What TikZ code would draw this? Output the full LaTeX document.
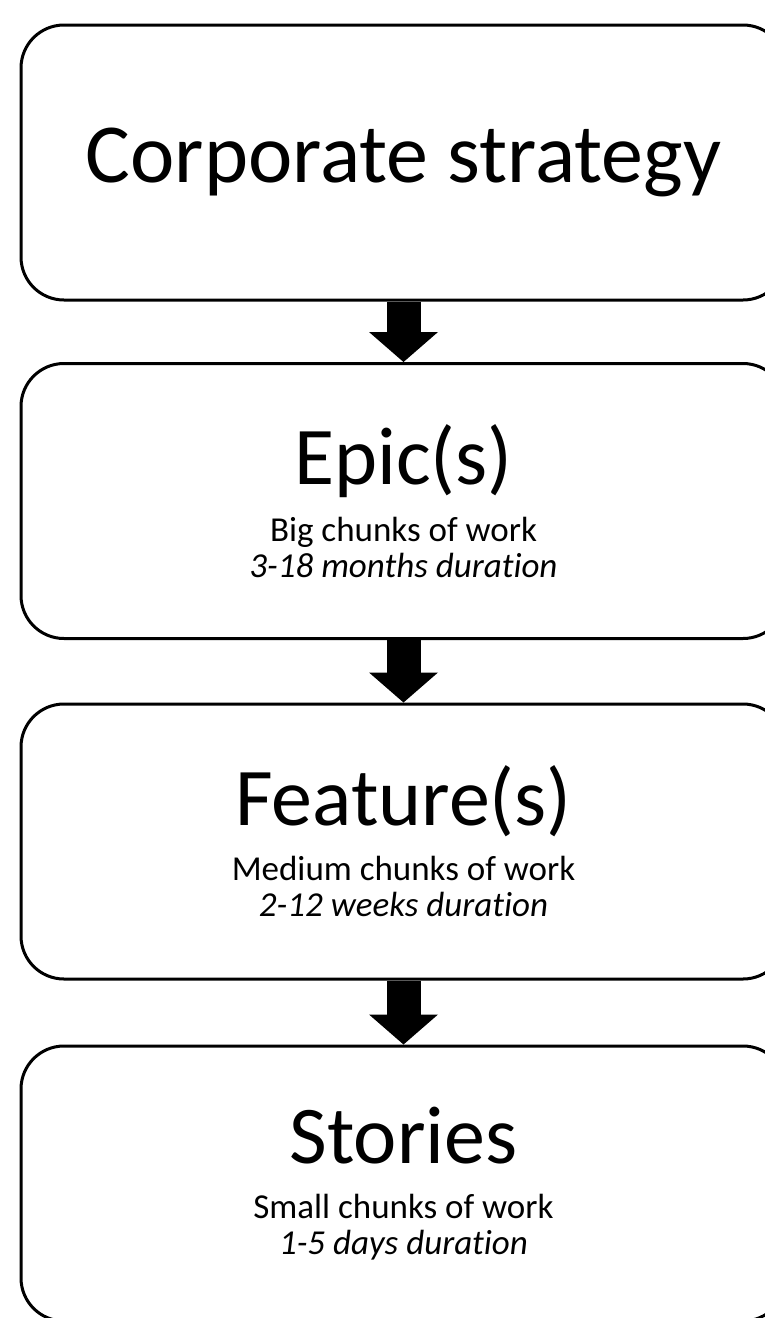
\documentclass[tikz,border=0pt]{standalone}
\usepackage{fontspec}
\setmainfont{Carlito}[Ligatures=NoCommon]
\usepackage{tikz}
\usetikzlibrary{arrows.meta}

\newcommand{\bigtitle}{\fontsize{82}{96}\selectfont}
\newcommand{\smalltext}{\fontsize{35}{36}\selectfont}

\begin{document}
\begin{tikzpicture}[x=1pt,y=-1pt,
    stage/.style={draw,line width=3pt,rounded corners=43pt,
      minimum width=765pt,minimum height=275pt,align=center,inner sep=0pt,
      font=\smalltext},
    downarrow/.style={line width=34pt,
      -{Triangle[length=30pt,width=69pt,line width=0pt]}}]
  \useasboundingbox (0,0) rectangle (764,1318);
  % ── Boxes ──────────────────────────────────────────
  \node[stage] (corp)    at (403.5,162.5)  {\fontsize{84}{96}\selectfont Corporate strategy};
  \node[stage] (epic)    at (403.5,501)    {{\bigtitle Epic(s)}\\[19pt]Big chunks of work\\\textit{3-18 months duration}};
  \node[stage] (feature) at (403.5,841.5)  {{\bigtitle Feature(s)}\\[19pt]Medium chunks of work\\\textit{2-12 weeks duration}};
  \node[stage] (stories) at (403.5,1183.5) {{\bigtitle Stories}\\[19pt]Small chunks of work\\\textit{1-5 days duration}};
  % ── Arrows (box bottom → next box top) ─────────────
  \draw[downarrow] (corp.south) -- (epic.north);
  \draw[downarrow] (epic.south) -- (feature.north);
  \draw[downarrow] (feature.south) -- (stories.north);
\end{tikzpicture}
\end{document}
